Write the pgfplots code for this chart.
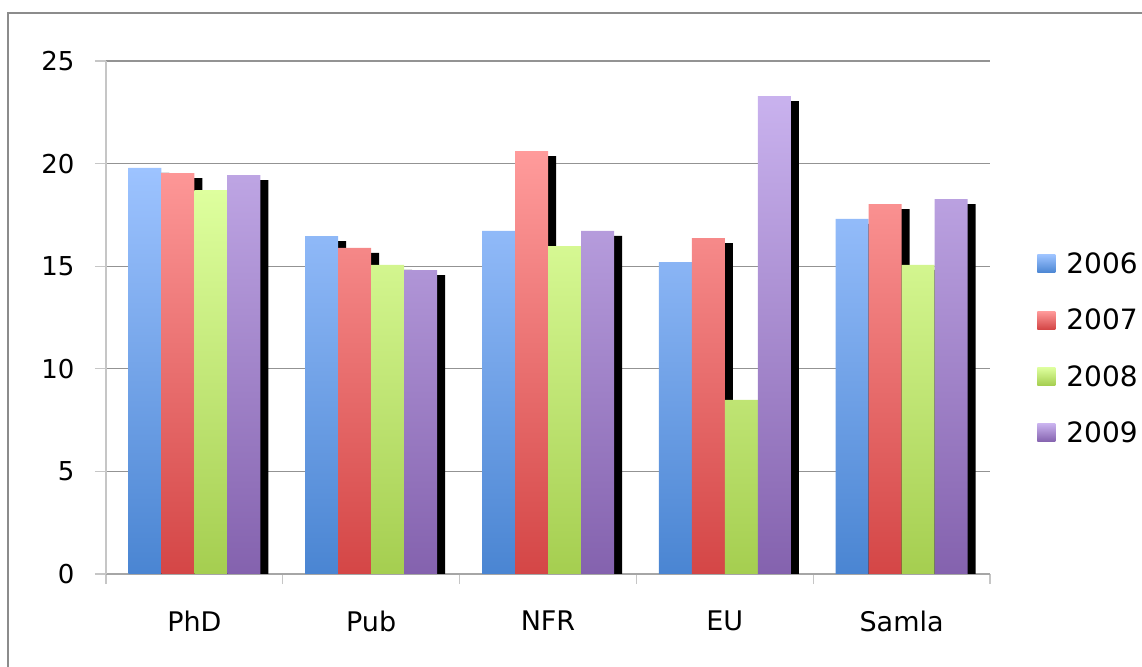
\documentclass[border=0pt]{standalone}
\usepackage{fontspec}
\setmainfont{DejaVu Sans}
\usepackage{pgfplots}
\pgfplotsset{compat=1.18}

% bar gradients, top and bottom
\definecolor{aT}{HTML}{9DC3FF}\definecolor{aB}{HTML}{4A85D2}
\definecolor{bT}{HTML}{FF9B9B}\definecolor{bB}{HTML}{D44646}
\definecolor{cT}{HTML}{DEFF9E}\definecolor{cB}{HTML}{A5CE50}
\definecolor{dT}{HTML}{C9B2EE}\definecolor{dB}{HTML}{8462AE}

\pgfplotsset{
  sq legend/.style={legend image code/.code={%
    \path[##1,draw=none] (0pt,-9pt) rectangle (18pt,9pt);
    \path (0pt,0pt) -- (27pt,0pt);}},
  shadow/.style={ybar, bar width=33pt, fill=black, draw=none, yshift=-5pt, forget plot},
  bars/.style={ybar, bar width=33pt, draw=none, sq legend},
}

\begin{document}
\begin{tikzpicture}
\path[use as bounding box, clip] (0pt,0pt) rectangle (1142pt,666pt);
\draw[gray!90, line width=1.2pt] (8pt,-20pt) rectangle (1180pt,653pt);
\begin{axis}[
  at={(106pt,92pt)}, anchor=south west,
  scale only axis, width=884pt, height=513pt,
  xmin=-0.5, xmax=4.5, ymin=0, ymax=25,
  separate axis lines,
  axis x line*=bottom, axis y line*=left,
  x axis line style={-, draw=gray!70, line width=1.3pt},
  y axis line style={-, draw=gray!45, line width=1.3pt},
  ytick={0,5,...,25},
  xtick={0,...,4},
  xticklabels={PhD,Pub,NFR,EU,Samla},
  minor xtick={-0.5,0.5,1.5,2.5,3.5,4.5},
  tick align=outside,
  major tick length=11pt, minor tick length=10pt,
  major x tick style={draw=none},
  minor x tick style={draw=gray!45, line width=1.3pt},
  ytick style={draw=gray!45, line width=1.3pt},
  ymajorgrids,
  major grid style={draw=gray!85, line width=1.3pt},
  /pgf/number format/assume math mode=true,
  tick label style={font=\fontsize{26}{30}\selectfont},
  yticklabel style={xshift=-17pt},
  xticklabel style={yshift=-22pt, font=\fontsize{27}{30}\selectfont},
  legend style={draw=none, fill=none, at={(axis description cs:1.05,0.44)},
    anchor=west, font=\fontsize{28}{32}\selectfont, row sep=30pt,
    nodes={inner sep=2pt}},
  legend cell align=left,
]
% shadows first, so the next bar covers them
\addplot[shadow, bar shift=-41.5pt] coordinates {(0,19.79) (1,16.47) (2,16.72) (3,15.20) (4,17.30)};
\addplot[shadow, bar shift=-8.5pt]  coordinates {(0,19.54) (1,15.89) (2,20.61) (3,16.37) (4,18.03)};
\addplot[shadow, bar shift=24.5pt]  coordinates {(0,18.71) (1,15.06) (2,15.98) (3,8.48) (4,15.06)};
\addplot[shadow, bar shift=57.5pt]  coordinates {(0,19.44) (1,14.81) (2,16.72) (3,23.29) (4,18.27)};

\addplot[bars, bar shift=-49.5pt, top color=aT, bottom color=aB] coordinates {(0,19.79) (1,16.47) (2,16.72) (3,15.20) (4,17.30)};
\addplot[bars, bar shift=-16.5pt, top color=bT, bottom color=bB] coordinates {(0,19.54) (1,15.89) (2,20.61) (3,16.37) (4,18.03)};
\addplot[bars, bar shift=16.5pt,  top color=cT, bottom color=cB] coordinates {(0,18.71) (1,15.06) (2,15.98) (3,8.48) (4,15.06)};
\addplot[bars, bar shift=49.5pt,  top color=dT, bottom color=dB] coordinates {(0,19.44) (1,14.81) (2,16.72) (3,23.29) (4,18.27)};
\legend{2006,2007,2008,2009}
\end{axis}
\end{tikzpicture}
\end{document}
